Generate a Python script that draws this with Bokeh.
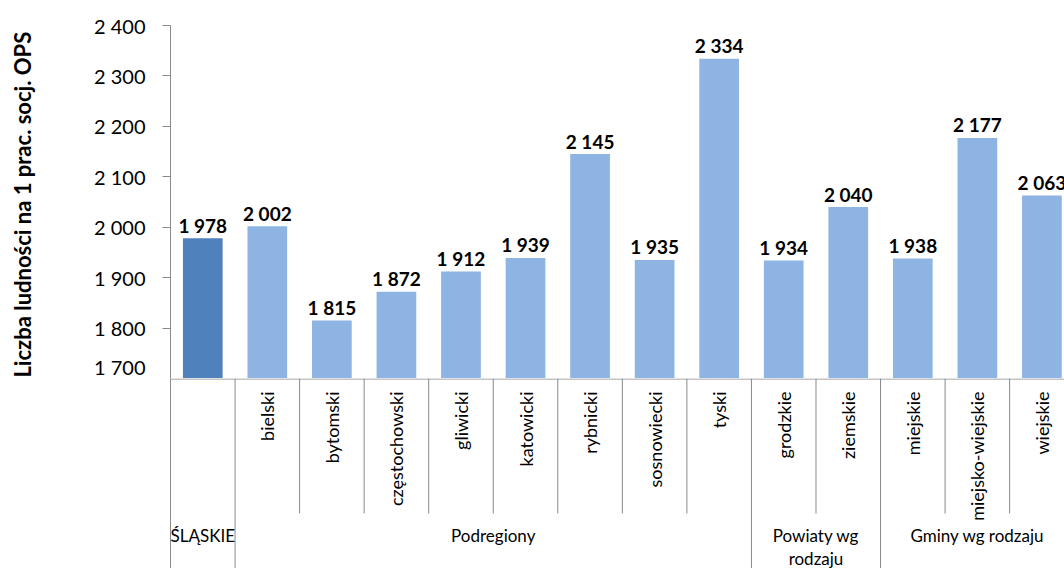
import numpy as np
from math import pi
from bokeh.plotting import figure
from bokeh.layouts import column
from bokeh.models import Range1d, FixedTicker, ColumnDataSource
from bokeh.core.properties import value
from bokeh.embed import file_html
from bokeh.resources import INLINE

# ---------------- data ----------------
categories = ["", "bielski", "bytomski", "częstochowski", "gliwicki", "katowicki",
              "rybnicki", "sosnowiecki", "tyski", "grodzkie", "ziemskie",
              "miejskie", "miejsko-wiejskie", "wiejskie"]
values = [1978, 2002, 1815, 1872, 1912, 1939, 2145, 1935, 2334, 1934, 2040,
          1938, 2177, 2063]
groups = ["ŚLĄSKIE", "Podregiony", "Powiaty wg\nrodzaju", "Gminy wg rodzaju"]
group_sizes = [1, 8, 2, 3]
y_ticks = [1700, 1800, 1900, 2000, 2100, 2200, 2300, 2400]
y_tick_labels = ["1 700", "1 800", "1 900", "2 000", "2 100", "2 200", "2 300", "2 400"]
y_label = "Liczba ludności na  1 prac. socj. OPS"

# ---------------- styling ----------------
FONT_NAME = "Lato"
FONT = value(FONT_NAME)
GRAY = "#8A8A8A"
DARK = "#4F81BD"
LIGHT = "#8EB4E3"
W = 1064
X_END = 13.85          # visible part of the 14 category slots (chart is cut at right)

n = len(categories)
xs = np.arange(n) + 0.5
colors = [DARK] + [LIGHT] * (n - 1)
labels = [f"{v:,}".replace(",", " ") for v in values]
src = ColumnDataSource(dict(x=xs, v=values, c=colors, lab=labels))

xr = Range1d(0, X_END)

# ---------------- main plot ----------------
p = figure(width=W, height=378, x_range=xr, y_range=Range1d(y_ticks[0], y_ticks[-1]),
           output_backend="svg", toolbar_location=None, x_axis_location=None,
           min_border_left=170, min_border_right=0, min_border_top=25, min_border_bottom=0)
p.outline_line_color = None
p.xgrid.visible = False
p.ygrid.visible = False

ax = p.yaxis[0]
ax.ticker = FixedTicker(ticks=y_ticks)
ax.major_label_overrides = dict(zip(y_ticks, y_tick_labels))
ax.major_label_text_font = FONT_NAME
ax.major_label_text_font_size = "20px"
ax.major_label_text_color = "black"
ax.major_label_standoff = 17
ax.major_tick_in = 0
ax.major_tick_out = 8
ax.major_tick_line_color = GRAY
ax.minor_tick_line_color = None
ax.axis_line_color = GRAY
ax.axis_label = y_label
ax.axis_label_text_font = FONT_NAME
ax.axis_label_text_font_style = "bold"
ax.axis_label_text_font_size = "22px"
ax.axis_label_text_color = "black"
ax.axis_label_standoff = 55

p.vbar(x="x", top="v", bottom=y_ticks[0], width=0.615, fill_color="c",
       line_color=None, source=src)
p.text(x="x", y="v", text="lab", source=src, text_align="center",
       text_baseline="alphabetic", y_offset=-13, text_font=FONT,
       text_font_style="bold", text_font_size="19px", text_color="black")

# ---------------- category table ----------------
Q_H = 190
q = figure(width=W, height=Q_H, x_range=xr, y_range=Range1d(Q_H, 0),
           output_backend="svg", toolbar_location=None, x_axis_location=None,
           min_border_left=170, min_border_right=0, min_border_top=0, min_border_bottom=0)
q.outline_line_color = None
q.xgrid.visible = False
q.ygrid.visible = False
qa = q.yaxis[0]
qa.ticker = FixedTicker(ticks=[])
qa.major_label_text_font_size = "0px"
qa.major_tick_line_color = None
qa.minor_tick_line_color = None
qa.axis_line_color = GRAY

# top border
q.segment(x0=[0], x1=[X_END], y0=[0.5], y1=[0.5], line_color=GRAY, line_width=1)

bounds = np.cumsum(group_sizes)
starts = bounds - np.array(group_sizes)
group_b = set(int(b) for b in bounds)
sub_b = [i for i in range(1, n) if i not in group_b]
full_b = [b for b in group_b if b < n]
q.segment(x0=sub_b, x1=sub_b, y0=[0] * len(sub_b), y1=[135] * len(sub_b),
          line_color=GRAY, line_width=1)
q.segment(x0=full_b, x1=full_b, y0=[0] * len(full_b), y1=[Q_H] * len(full_b),
          line_color=GRAY, line_width=1)

q.text(x=xs, y=[13] * n, text=categories, angle=pi / 2, text_align="right",
       text_baseline="middle", text_font=FONT, text_font_size="18px",
       text_color="black")

centers = (starts + bounds) / 2.0
q.text(x=centers, y=[146] * len(groups), text=groups, text_align="center",
       text_baseline="top", text_font=FONT, text_font_size="17px",
       text_color="black", text_line_height=1.1)

layout = column(p, q, spacing=0)
open("out.html", "w").write(file_html(layout, INLINE))
